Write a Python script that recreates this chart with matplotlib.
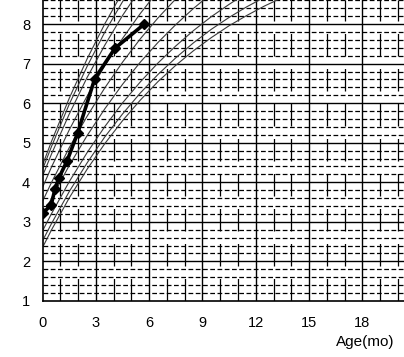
import numpy as np
import matplotlib
matplotlib.use("Agg")
import matplotlib.pyplot as plt

plt.rcParams["font.family"] = ["Liberation Sans", "DejaVu Sans"]

# reference curves (weight in kg by age in months)
ref_age = [0, 0.5, 1.5, 2.5, 3.5, 4.5, 5.5, 6.5, 7.5, 8.5, 9.5, 10.5, 11.5, 12.5, 13.5, 14.5]
p3 = [2.36, 2.80, 3.61, 4.33, 4.98, 5.56, 6.08, 6.55, 6.96, 7.33, 7.66, 7.96, 8.22, 8.46, 8.67, 8.88]
p5 = [2.53, 2.96, 3.77, 4.49, 5.15, 5.73, 6.26, 6.73, 7.15, 7.53, 7.87, 8.17, 8.44, 8.68, 8.90, 9.10]
p10 = [2.78, 3.21, 4.02, 4.75, 5.41, 6.01, 6.54, 7.02, 7.45, 7.84, 8.19, 8.50, 8.79, 9.04]
p25 = [3.15, 3.60, 4.43, 5.18, 5.86, 6.48, 7.04, 7.54, 7.99, 8.40, 8.77, 9.11]
p50 = [3.53, 4.00, 4.88, 5.67, 6.39, 7.04, 7.63, 8.16, 8.64, 9.08]
p75 = [3.88, 4.39, 5.33, 6.18, 6.95, 7.64, 8.27, 8.84, 9.36]
p90 = [4.17, 4.72, 5.73, 6.65, 7.47, 8.22, 8.89]
p95 = [4.34, 4.91, 5.98, 6.93, 7.80, 8.57, 9.28]
p97 = [4.45, 5.04, 6.13, 7.12, 8.01, 8.81, 9.54]
curves = [p3, p5, p10, p25, p50, p75, p90, p95, p97]

# the child's measurements
age = [0, 0.47, 0.7, 0.92, 1.38, 1.97, 2.93, 4.07, 5.72]
weight = [3.22, 3.42, 3.84, 4.12, 4.55, 5.25, 6.62, 7.39, 8.0]

x_ticks = [0, 3, 6, 9, 12, 15, 18]
y_ticks = [1, 2, 3, 4, 5, 6, 7, 8]

fig = plt.figure(figsize=(4.04, 3.57), dpi=100)
ax = fig.add_axes([0.1057, 0.157, 0.8943, 0.843])
xmax, ymax = 20.35, 8.61
ax.set_xlim(0, xmax)
ax.set_ylim(1, ymax)

# grid: solid at integer kg / every 3 months, dashed otherwise
for y in np.arange(1.2, ymax, 0.2):
    if abs(y - round(y)) < 0.01:
        ax.axhline(y, color="black", lw=1.0, zorder=1)
    else:
        ax.axhline(y, color="black", lw=0.9, dashes=(3.8, 2.0), zorder=1)
for x in range(1, 21):
    if x % 3 == 0:
        ax.axvline(x, color="black", lw=1.0, zorder=1)
    else:
        ax.axvline(x, color="black", lw=0.9, dashes=(18, 10), zorder=1)

for w in curves:
    ax.plot(ref_age[:len(w)], w, color="#3a3a3a", lw=0.8, zorder=2)

ax.plot(age, weight, color="black", lw=2.6, marker="D", ms=5.5, zorder=3)

for s in ["top", "right"]:
    ax.spines[s].set_visible(False)
for s in ["left", "bottom"]:
    ax.spines[s].set_linewidth(1.2)

ax.set_xticks(x_ticks)
ax.set_yticks(y_ticks)
ax.tick_params(length=0, labelsize=10.5)
ax.tick_params(axis="x", pad=11)
ax.tick_params(axis="y", pad=9)
fig.text(0.905, 0.042, "Age(mo)", ha="center", va="center", fontsize=11)

fig.savefig("out.png", dpi=100)
